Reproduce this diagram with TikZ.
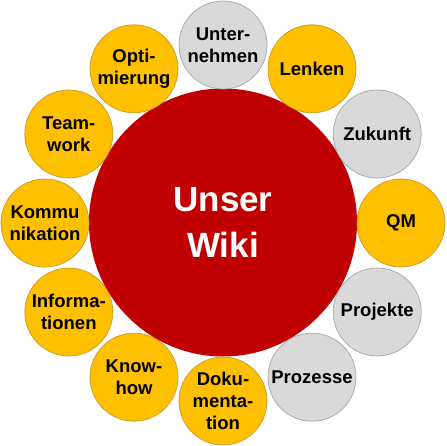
\documentclass[tikz,border=0pt]{standalone}
\usepackage{fontspec}
\setmainfont{Liberation Sans}
\definecolor{wikired}{HTML}{C00000}
\definecolor{gold}{HTML}{FFC000}
\definecolor{goldedge}{HTML}{C89A2A}
\definecolor{lgray}{HTML}{D9D9D9}
\definecolor{grayedge}{HTML}{A6A6A6}
\begin{document}
\begin{tikzpicture}[x=1pt,y=-1pt,
  bubble/.style={circle, minimum size=88pt, inner sep=0pt, line width=0.7pt, align=center,
     font=\fontsize{18.5}{22}\selectfont\bfseries, text=black},
  goldbubble/.style={bubble, fill=gold, draw=goldedge},
  graybubble/.style={bubble, fill=lgray, draw=grayedge},
  core/.style={circle, minimum size=268pt, inner sep=0pt, fill=wikired, text=white, align=center,
     font=\fontsize{35}{46.5}\selectfont\bfseries}]
\useasboundingbox (0,0) rectangle (446,446);
\node[core] (wiki) at (223,222.5) {Unser\\Wiki};
\node[graybubble] (unt) at (223,45) {Unter-\\nehmen};
\node[goldbubble] (len) at (312,68.8) {Lenken};
\node[graybubble] (zuk) at (377.2,134) {Zukunft};
\node[goldbubble] (qm) at (401,223) {QM};
\node[graybubble] (pro) at (377.2,312) {Projekte};
\node[graybubble] (proz) at (312,377.2) {Prozesse};
\node[goldbubble] (dok) at (223,401) {Doku-\\menta-\\tion};
\node[goldbubble] (know) at (134,377.2) {Know-\\how};
\node[goldbubble] (inf) at (68.8,312) {Informa-\\tionen};
\node[goldbubble] (kom) at (45,223) {Kommu\\nikation};
\node[goldbubble] (team) at (68.8,134) {Team-\\work};
\node[goldbubble] (opt) at (134,68.8) {Opti-\\mierung};
\end{tikzpicture}
\end{document}
